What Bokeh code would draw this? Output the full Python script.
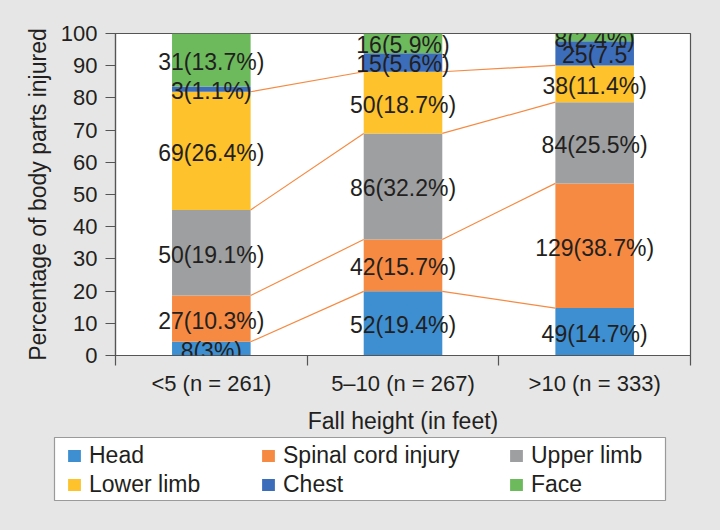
from bokeh.plotting import figure
from bokeh.layouts import column
from bokeh.models import (ColumnDataSource, Range1d, FixedTicker, Legend, LegendItem,
                          LabelSet)
from bokeh.core.properties import value
from bokeh.embed import file_html
from bokeh.resources import INLINE

# ---------------- data ----------------
categories = ["<5 (n = 261)", "5–10 (n = 267)", ">10 (n = 333)"]
series = ["Head", "Spinal cord injury", "Upper limb", "Lower limb", "Chest", "Face"]

head = [8, 52, 49]
spinal = [27, 42, 129]
upper = [50, 86, 84]
lower = [69, 50, 38]
chest = [3, 15, 25]
face = [31, 16, 8]

head_labels = ["8(3%)", "52(19.4%)", "49(14.7%)"]
spinal_labels = ["27(10.3%)", "42(15.7%)", "129(38.7%)"]
upper_labels = ["50(19.1%)", "86(32.2%)", "84(25.5%)"]
lower_labels = ["69(26.4%)", "50(18.7%)", "38(11.4%)"]
chest_labels = ["3(1.1%)", "15(5.6%)", "25(7.5"]
face_labels = ["31(13.7%)", "16(5.9%)", "8(2.4%)"]

colors = ["#3d8fd2", "#f68a42", "#9d9fa1", "#fdc22c", "#3b6dba", "#6cba5c"]
line_color = "#f68a42"
text_color = "#231f20"
bg = "#e6e6e6"
FONT = "Liberation Sans"

counts = [head, spinal, upper, lower, chest, face]
labels = [head_labels, spinal_labels, upper_labels, lower_labels, chest_labels, face_labels]

n_cat = len(categories)
xs = [i + 0.5 for i in range(n_cat)]
bar_w = 0.41
totals = [sum(c[i] for c in counts) for i in range(n_cat)]


def no_frame_align(fig):
    try:
        fig.frame_align = False
    except Exception:
        pass


# ---------------- main figure ----------------
p = figure(width=720, height=436, output_backend="svg", toolbar_location=None,
           x_range=Range1d(0, n_cat), y_range=Range1d(0, 100),
           min_border_left=115, min_border_right=30, min_border_top=33,
           min_border_bottom=76)
no_frame_align(p)
p.background_fill_color = "white"
p.border_fill_color = bg
p.outline_line_color = "#555555"
p.outline_line_width = 1.2
p.xgrid.visible = False
p.ygrid.visible = False
p.styles = {"background-color": bg}

bottoms = [0.0] * n_cat
tops_per_series = []
label_x, label_y, label_t = [], [], []
for s, (name, cnt, lab, col) in enumerate(zip(series, counts, labels, colors)):
    share = [cnt[i] / totals[i] * 100 for i in range(n_cat)]
    tops = [bottoms[i] + share[i] for i in range(n_cat)]
    src = ColumnDataSource(dict(x=xs, bottom=list(bottoms), top=tops))
    p.vbar(x="x", bottom="bottom", top="top", width=bar_w, source=src,
           fill_color=col, line_color=None)
    tops_per_series.append(tops)
    for i in range(n_cat):
        label_x.append(xs[i])
        label_y.append((bottoms[i] + tops[i]) / 2)
        label_t.append(lab[i])
    bottoms = tops

# connecting lines (top of first four series)
x0s, y0s, x1s, y1s = [], [], [], []
for s in range(4):
    for i in range(n_cat - 1):
        x0s.append(xs[i] + bar_w / 2)
        y0s.append(tops_per_series[s][i])
        x1s.append(xs[i + 1] - bar_w / 2)
        y1s.append(tops_per_series[s][i + 1])
p.segment(x0=x0s, y0=y0s, x1=x1s, y1=y1s, line_color=line_color, line_width=1.2)

lab_src = ColumnDataSource(dict(x=label_x, y=label_y, text=label_t))
p.add_layout(LabelSet(x="x", y="y", text="text", source=lab_src,
                      text_align="center", text_baseline="middle",
                      text_font=value(FONT), text_font_size="23px",
                      text_color=text_color, y_offset=-2))

# ---------------- axes ----------------
ax = p.xaxis[0]
ax.ticker = FixedTicker(ticks=xs, minor_ticks=list(range(n_cat + 1)))
ax.major_label_overrides = {x: c for x, c in zip(xs, categories)}
ax.major_tick_line_color = None
ax.major_tick_out = 10
ax.major_tick_in = 0
ax.minor_tick_line_color = "#555555"
ax.minor_tick_line_width = 1.2
ax.minor_tick_out = 10
ax.minor_tick_in = 0
ax.axis_label = "Fall height (in feet)"
ax.major_label_standoff = 5

ay = p.yaxis[0]
ay.ticker = FixedTicker(ticks=list(range(0, 101, 10)))
ay.major_tick_out = 10
ay.major_tick_in = 0
ay.minor_tick_line_color = None
ay.major_tick_line_color = "#555555"
ay.major_tick_line_width = 1.2
ay.axis_label = "Percentage of body parts injured"
ay.major_label_standoff = 8
ay.axis_label_standoff = 7

for a in (ax, ay):
    a.axis_line_color = "#555555"
    a.axis_line_width = 1.2
    a.major_label_text_font = FONT
    a.major_label_text_font_size = "22px"
    a.major_label_text_color = text_color
    a.axis_label_text_font = FONT
    a.axis_label_text_font_size = "23px"
    a.axis_label_text_font_style = "normal"
    a.axis_label_text_color = text_color
ax.axis_label_standoff = 9

# ---------------- legend figure (frame = legend box) ----------------
pl = figure(width=720, height=94, output_backend="svg", toolbar_location=None,
            x_range=Range1d(0, 1), y_range=Range1d(0, 1),
            x_axis_location=None, y_axis_location=None,
            min_border_left=54, min_border_right=55, min_border_top=1,
            min_border_bottom=30)
no_frame_align(pl)
pl.background_fill_color = "white"
pl.border_fill_color = bg
pl.outline_line_color = "#9a9a9a"
pl.outline_line_width = 1.2
pl.xgrid.visible = False
pl.ygrid.visible = False
pl.styles = {"background-color": bg}

leg_renderers = []
for col in colors:
    r = pl.vbar(x=[-5], bottom=[0], top=[0], width=0.1, fill_color=col, line_color=None)
    leg_renderers.append(r)

col_x = [12, 206, 454]
for c in range(3):
    items = [LegendItem(label=series[c], renderers=[leg_renderers[c]]),
             LegendItem(label=series[c + 3], renderers=[leg_renderers[c + 3]])]
    pl.add_layout(Legend(items=items, location=(col_x[c], 2), orientation="vertical",
                         glyph_width=16, glyph_height=15, label_standoff=7,
                         label_text_font=FONT, label_text_font_size="23px",
                         label_text_color=text_color, label_height=27, spacing=2,
                         padding=0, margin=0,
                         border_line_color=None, background_fill_alpha=0),
                  "center")

layout = column(p, pl, spacing=0)
layout.styles = {"background-color": bg}
open("out.html", "w").write(file_html(layout, INLINE))
